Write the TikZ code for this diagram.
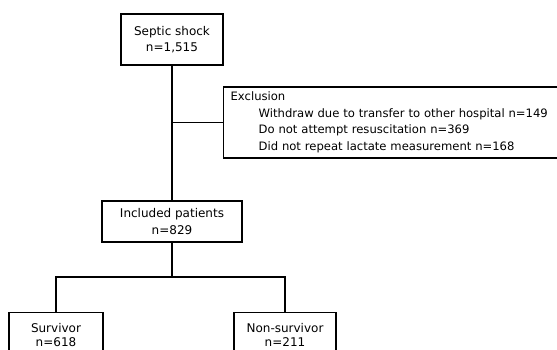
\documentclass[tikz,border=0pt]{standalone}
\usepackage{fontspec}
\setmainfont{DejaVu Sans}
\begin{document}
\begin{tikzpicture}[x=1pt,y=-1pt,
  box/.style={draw=black,line width=1.3pt,fill=white,inner sep=0pt,align=center,
    font=\fontsize{12}{16.5}\selectfont},
  link/.style={draw=black,line width=1.3pt}]
\useasboundingbox (0,0) rectangle (557,349);
\clip (0,0) rectangle (557,349);
\node[box,minimum width=102pt,minimum height=51pt] (septic) at (172,39.5) {Septic shock\\n=1,515};
\node[box,minimum width=377pt,minimum height=71pt,anchor=west,text width=363pt,inner xsep=7pt,align=left,
  font=\fontsize{11.6}{16.5}\selectfont] (excl) at (223,122.5)
  {Exclusion\\
   \hspace*{28pt}Withdraw due to transfer to other hospital n=149\\
   \hspace*{28pt}Do not attempt resuscitation n=369\\
   \hspace*{28pt}Did not repeat lactate measurement n=168};
\node[box,minimum width=140pt,minimum height=41pt] (incl) at (172,221.5) {Included patients\\n=829};
\node[box,minimum width=94pt,minimum height=44pt,anchor=north,font=\fontsize{12}{14}\selectfont] (surv) at (56,312) {Survivor\\n=618};
\node[box,minimum width=102pt,minimum height=44pt,anchor=north,font=\fontsize{12}{14}\selectfont] (nonsurv) at (285,312) {Non-survivor\\n=211};
\coordinate (br) at (excl.west -| septic.south);
\coordinate (split) at (172,277);
\draw[link] (septic.south) -- (incl.north);
\draw[link] (br) -- (excl.west);
\draw[link] (incl.south) -- (split);
\draw[link] (surv.north) |- (split) -| (nonsurv.north);
\end{tikzpicture}
\end{document}
